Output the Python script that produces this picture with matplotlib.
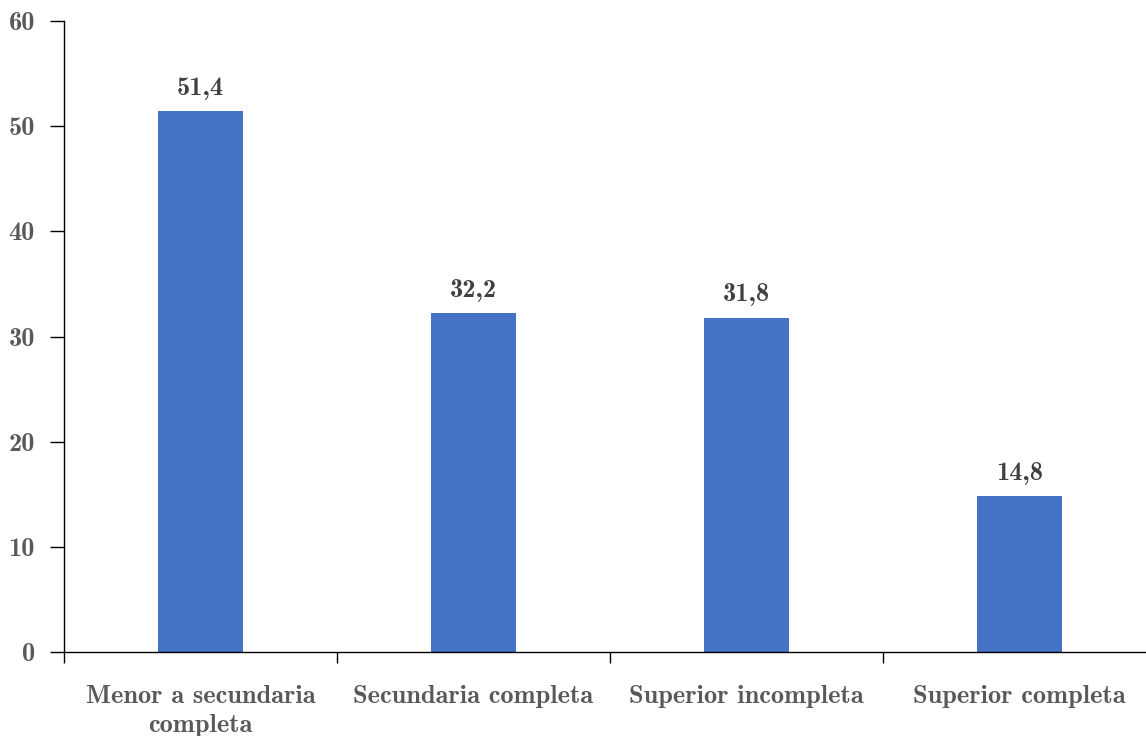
import matplotlib.pyplot as plt

categories = ['Menor a secundaria\ncompleta', 'Secundaria completa',
              'Superior incompleta', 'Superior completa']
values = [51.4, 32.2, 31.8, 14.8]
yticks = [0, 10, 20, 30, 40, 50, 60]

plt.rcParams['font.family'] = ['cmb10', 'DejaVu Serif']
plt.rcParams['axes.formatter.use_mathtext'] = True

fig = plt.figure(figsize=(11.46, 7.36), dpi=100)
ax = fig.add_axes([64 / 1146, 84 / 736, 1092 / 1146, 631 / 736])

x = range(len(categories))
ax.bar(x, values, width=0.31, color='#4472C4', zorder=2)

for xi, v in zip(x, values):
    ax.text(xi, v + 1.1, f'{v:.1f}'.replace('.', ','), ha='center', va='bottom',
            fontsize=19, color='#404040')

ax.set_xlim(-0.5, 3.5)
ax.set_ylim(0, 60)
ax.set_yticks(yticks)
ax.set_yticklabels([str(t) for t in yticks], fontsize=19, color='#595959')

# category labels sit between the boundary ticks
ax.set_xticks([-0.5, 0.5, 1.5, 2.5, 3.5])
ax.set_xticklabels([])
ax.set_xticks(list(x), minor=True)
ax.set_xticklabels(categories, minor=True, fontsize=19, color='#595959',
                   linespacing=1.3, va='top')
ax.tick_params(axis='x', which='minor', length=0, pad=24)
ax.tick_params(axis='x', which='major', length=8, width=1, direction='out')
ax.tick_params(axis='y', length=10, width=1, direction='out', pad=11)

ax.spines['top'].set_visible(False)
ax.spines['right'].set_visible(False)
ax.spines['left'].set_linewidth(1)
ax.spines['bottom'].set_linewidth(1)

fig.savefig('out.png', dpi=100)
